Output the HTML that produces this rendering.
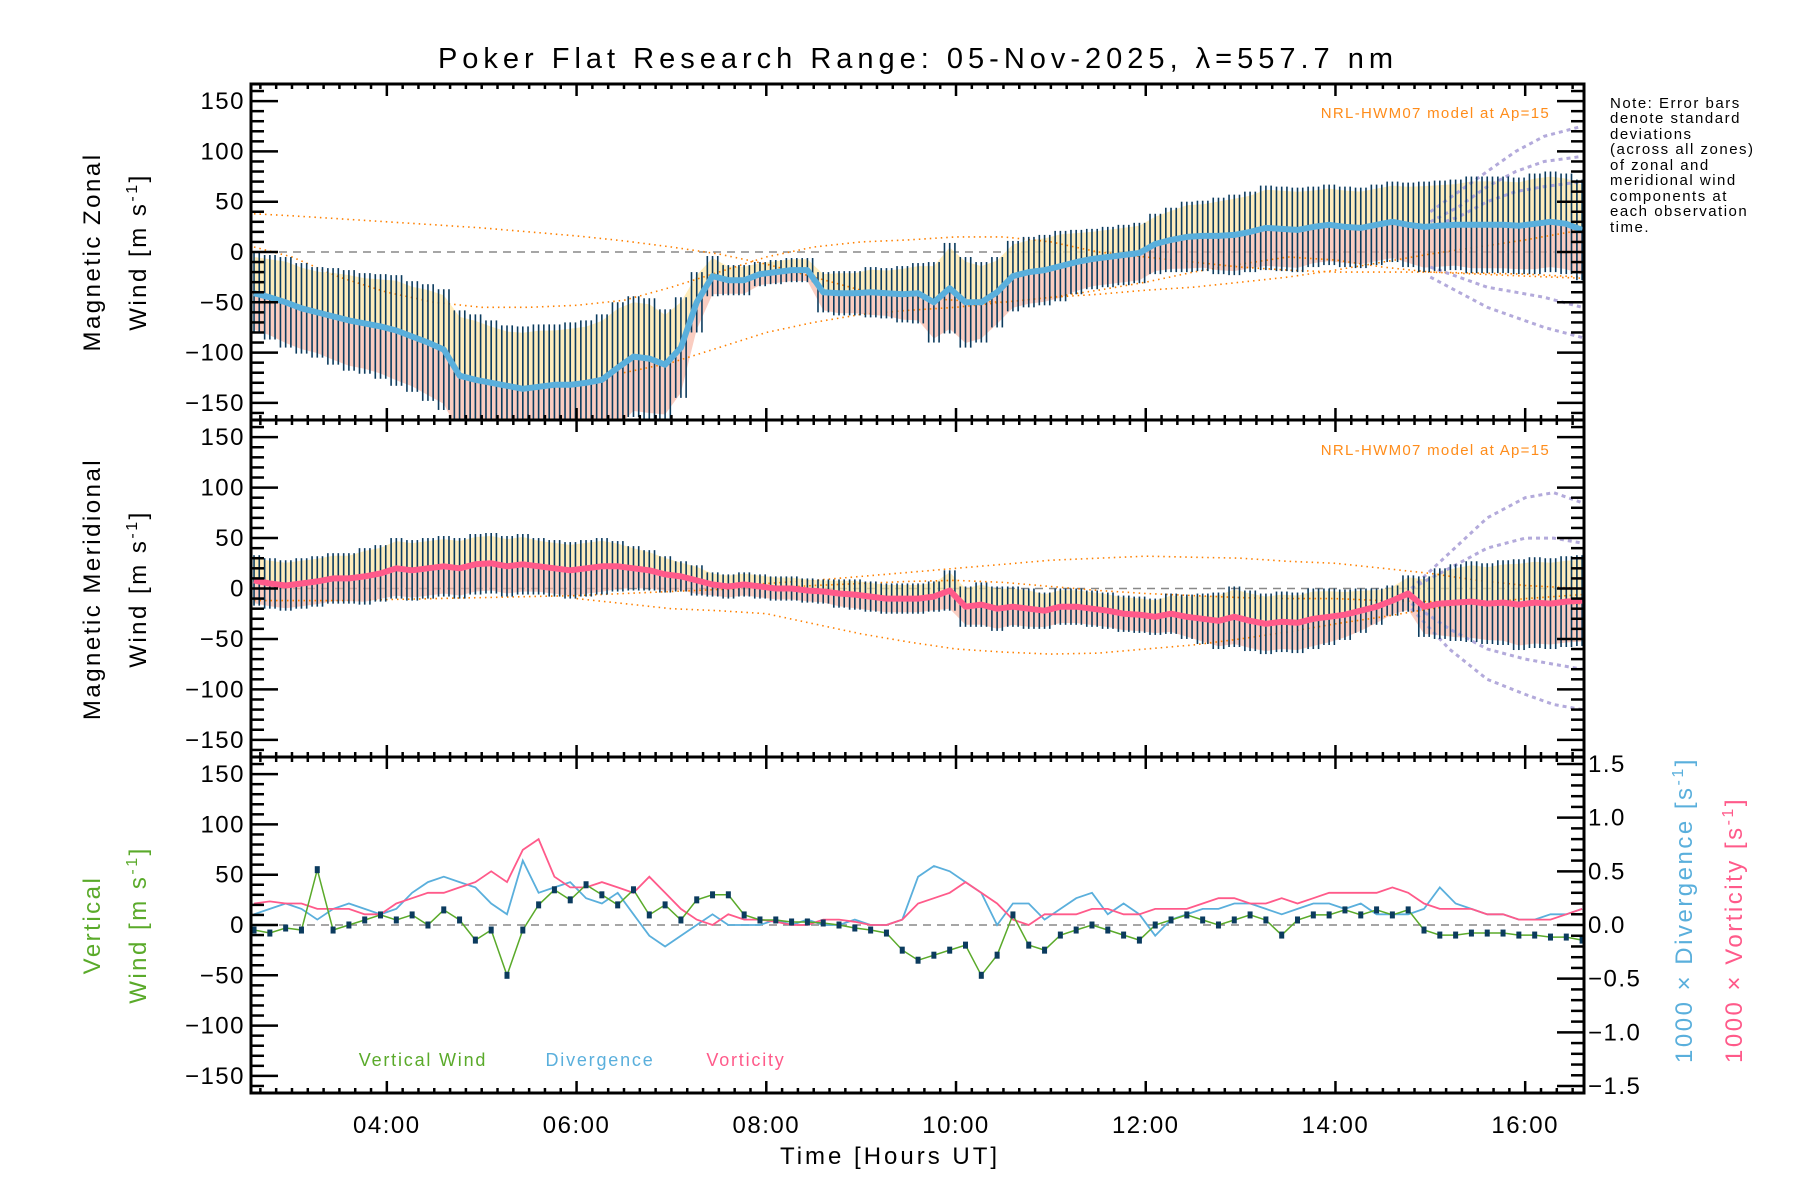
<!DOCTYPE html>
<html><head><meta charset="utf-8">
<style>
html,body{margin:0;padding:0;background:#fff;}
svg{display:block;font-family:"Liberation Sans","DejaVu Sans",sans-serif;}
</style></head>
<body>
<svg id="chart" width="1800" height="1200" viewBox="0 0 1800 1200">
<text x="918" y="68" font-size="29" letter-spacing="5" text-anchor="middle" fill="#000">Poker Flat Research Range: 05-Nov-2025, λ=557.7 nm</text>
<text x="890" y="1164" font-size="24" letter-spacing="3" text-anchor="middle" fill="#000">Time [Hours UT]</text>
<g font-size="15" letter-spacing="1.5" fill="#000">
<text x="1610" y="108">Note: Error bars</text>
<text x="1610" y="123">denote standard</text>
<text x="1610" y="139">deviations</text>
<text x="1610" y="154">(across all zones)</text>
<text x="1610" y="170">of zonal and</text>
<text x="1610" y="185">meridional wind</text>
<text x="1610" y="201">components at</text>
<text x="1610" y="216">each observation</text>
<text x="1610" y="232">time.</text>
</g>
<g letter-spacing="2.5">
<text transform="translate(100,252) rotate(-90)" font-size="24" text-anchor="middle">Magnetic Zonal</text>
<text transform="translate(146,252) rotate(-90)" font-size="24" text-anchor="middle">Wind [m s<tspan dy="-9" font-size="16">-1</tspan><tspan dy="9">]</tspan></text>
<text transform="translate(100,589) rotate(-90)" font-size="24" text-anchor="middle">Magnetic Meridional</text>
<text transform="translate(146,589) rotate(-90)" font-size="24" text-anchor="middle">Wind [m s<tspan dy="-9" font-size="16">-1</tspan><tspan dy="9">]</tspan></text>
<text transform="translate(100,925) rotate(-90)" font-size="24" text-anchor="middle" fill="#5aaa2a">Vertical</text>
<text transform="translate(146,925) rotate(-90)" font-size="24" text-anchor="middle" fill="#5aaa2a">Wind [m s<tspan dy="-9" font-size="16">-1</tspan><tspan dy="9">]</tspan></text>
<text transform="translate(1692,910) rotate(-90)" font-size="24" text-anchor="middle" fill="#5aafdc">1000 × Divergence [s<tspan dy="-9" font-size="16">-1</tspan><tspan dy="9">]</tspan></text>
<text transform="translate(1742,930) rotate(-90)" font-size="24" text-anchor="middle" fill="#ff5a8a">1000 × Vorticity [s<tspan dy="-9" font-size="16">-1</tspan><tspan dy="9">]</tspan></text>
</g>
<text x="1550" y="118" font-size="15" letter-spacing="1.3" text-anchor="end" fill="#ff8c1a">NRL-HWM07 model at Ap=15</text>
<text x="1550" y="455" font-size="15" letter-spacing="1.3" text-anchor="end" fill="#ff8c1a">NRL-HWM07 model at Ap=15</text>
<g font-size="18" letter-spacing="1.8" text-anchor="middle">
<text x="423" y="1066" fill="#5aaa2a">Vertical Wind</text>
<text x="600" y="1066" fill="#5aafdc">Divergence</text>
<text x="746" y="1066" fill="#ff5a8a">Vorticity</text>
</g>
</svg>
<script>
// time grid: 10-minute samples starting at 02:36 UT
const tStart = 2.6;
const tStep = 1/6;
const xTickLabels = ["04:00","06:00","08:00","10:00","12:00","14:00","16:00"];
const xTickHours = [4,6,8,10,12,14,16];
const yTickLabels = ["150","100","50","0","−50","−100","−150"];
const yTickValues = [150,100,50,0,-50,-100,-150];
const rTickLabels = ["1.5","1.0","0.5","0.0","−0.5","−1.0","−1.5"];
const rTickValues = [1.5,1.0,0.5,0,-0.5,-1.0,-1.5];

const zonalMean = [-41,-45,-50,-56,-60,-64, -68,-71,-74,-78,-84,-90, -97,-123,-127,-130,-133,-136,
 -134,-132,-132,-130,-127,-115, -104,-106,-112,-95,-50,-24, -28,-28,-22,-20,-18,-18,
 -40,-41,-41,-40,-41,-42, -41,-50,-36,-50,-50,-40, -24,-20,-18,-14,-10,-7,
 -5,-3,-1,8,12,15, 16,16,17,20,24,23, 22,25,27,25,24,27, 30,27,25,26,27,27, 27,27,26,28,30,28, 22];
const zonalSd = [40,42,45,45,45,48, 50,50,52,55,55,58, 60,65,65,62,60,62, 62,60,62,62,65,65,
 60,60,55,50,30,20, 15,15,12,12,12,12, 20,22,22,25,25,28, 30,40,45,45,40,35,
 35,35,35,35,32,30, 30,30,30,30,32,35, 35,38,40,40,42,42, 42,40,40,40,40,40,
 40,42,45,45,45,48, 48,48,48,50,50,50, 50];
const meridMean = [8,5,3,5,7,10, 10,12,15,20,18,20, 22,20,24,25,22,24, 22,20,18,20,22,22,
 20,18,14,12,8,4, 2,4,2,0,0,-2, -3,-5,-6,-8,-10,-10, -10,-8,-2,-18,-16,-20,
 -18,-20,-22,-18,-18,-20, -22,-25,-26,-28,-25,-28, -30,-32,-28,-32,-35,-33,
 -34,-30,-28,-26,-22,-18, -12,-5,-18,-15,-14,-13, -15,-14,-16,-14,-15,-13, -12];
const meridSd = [25,25,25,25,25,25, 25,28,28,30,30,30, 30,30,30,30,30,30, 28,28,28,28,28,25,
 22,20,18,15,15,12, 12,12,12,12,12,12, 12,14,15,15,15,15, 15,15,20,20,22,22,
 20,20,18,18,18,18, 18,18,18,18,20,22, 25,28,30,30,30,30, 30,30,28,25,22,18,
 15,18,30,35,38,40, 40,42,45,45,45,45, 45];
const vertWind = [-5,-8,-3,-5,55,-5, 0,5,10,5,10,0, 15,5,-15,-5,-50,-5, 20,35,25,40,30,20,
 35,10,20,5,25,30, 30,10,5,5,3,3, 2,0,-3,-5,-8,-25, -35,-30,-25,-20,-50,-30,
 10,-20,-25,-10,-5,0, -5,-10,-15,0,5,10, 5,0,5,10,5,-10, 5,10,10,15,10,15,
 10,15,-5,-10,-10,-8, -8,-8,-10,-10,-12,-12, -15];
const divergence = [0.1,0.15,0.2,0.15,0.05,0.15, 0.2,0.15,0.1,0.15,0.3,0.4, 0.45,0.4,0.35,0.2,0.1,0.6,
 0.3,0.35,0.4,0.25,0.2,0.3, 0.1,-0.1,-0.2,-0.1,0.0,0.1, 0.0,0.0,0.0,0.05,0.0,0.05,
 0.0,0.0,0.05,0.0,0.0,0.05, 0.45,0.55,0.5,0.4,0.3,0.0, 0.2,0.2,0.05,0.15,0.25,0.3,
 0.1,0.2,0.1,-0.1,0.05,0.1, 0.15,0.15,0.2,0.2,0.15,0.1, 0.15,0.2,0.2,0.15,0.2,0.1,
 0.1,0.1,0.15,0.35,0.2,0.15, 0.1,0.1,0.05,0.05,0.1,0.1, 0.15];
const vorticity = [0.2,0.22,0.2,0.2,0.15,0.15, 0.15,0.1,0.1,0.2,0.25,0.3, 0.3,0.35,0.4,0.5,0.4,0.7,
 0.8,0.45,0.35,0.35,0.4,0.35, 0.3,0.45,0.3,0.15,0.05,0.0, 0.1,0.05,0.05,0.03,0.0,0.0,
 0.05,0.05,0.03,0.0,0.0,0.05, 0.2,0.25,0.3,0.4,0.3,0.2, 0.05,0.0,0.1,0.1,0.1,0.15,
 0.15,0.1,0.1,0.15,0.15,0.15, 0.2,0.25,0.25,0.2,0.2,0.25, 0.2,0.25,0.3,0.3,0.3,0.3,
 0.35,0.3,0.2,0.15,0.15,0.15, 0.1,0.1,0.05,0.05,0.05,0.1, 0.15];

const modelT = [2.6,3,3.5,4,4.5,5,5.5,6,6.5,7,7.5,8,8.5,9,9.5,10,10.5,11,11.5,12,12.5,13,13.5,14,14.5,15,15.5,16,16.6];
const zModelHi = [38,36,33,30,27,24,20,16,11,5,-2,-12,-25,-38,-45,-48,-50,-45,-38,-30,-20,-12,-5,-8,-15,-20,-22,-24,-26];
const zModelMid = [5,-5,-25,-40,-50,-55,-55,-53,-48,-35,-20,-5,5,10,12,15,15,10,0,-5,-10,-15,-18,-20,-20,-20,-21,-22,-25];
const zModelLo = [null,null,null,null,null,null,null,null,-120,-110,-95,-80,-70,-62,-58,-55,-50,-45,-42,-38,-35,-30,-25,-18,-10,-2,5,12,22];
const mModelHi = [null,null,null,null,null,null,null,null,null,null,2,5,8,12,16,20,24,28,30,32,31,30,27,25,20,15,8,3,0];
const mModelMid = [-12,-12,-12,-11,-10,-9,-8,-7,-5,-3,-1,0,3,5,7,8,6,2,-2,-5,-7,-9,-10,-10,-12,-13,-14,-15,-15];
const mModelLo = [null,null,null,null,null,null,null,-10,-15,-20,-22,-25,-35,-45,-53,-60,-63,-65,-64,-60,-56,-50,-43,-35,-28,-20,-15,-10,-6];

const zoneT1 = [15.0,15.3,15.6,15.9,16.2,16.6];
const zZoneA = [40,60,80,100,115,125];
const zZoneB = [30,45,65,80,90,95];
const zZoneC = [25,35,50,60,65,70];
const zZoneD = [-15,-25,-35,-40,-45,-55];
const zZoneE = [-25,-40,-55,-65,-75,-85];
const zoneT2 = [14.8,15.2,15.6,16.0,16.3,16.6];
const mZoneA = [0,35,70,90,95,85];
const mZoneB = [0,20,40,50,50,45];
const mZoneC = [-15,-40,-60,-70,-75,-80];
const mZoneD = [-20,-60,-90,-105,-115,-120];

const NS = "http://www.w3.org/2000/svg";
const svg = document.getElementById("chart");
const X0 = 251, X1 = 1584, T0 = 2.568, T1 = 16.62;
const panels = [{top:84,bot:420},{top:420,bot:757},{top:757,bot:1093}];
const YR = 167;
function xs(t){ return X0 + (t - T0) / (T1 - T0) * (X1 - X0); }
function ys(p, v){ const P = panels[p]; const c = (P.top + P.bot) / 2; return c - v / YR * (P.bot - P.top) / 2; }
function yr(v){ const P = panels[2]; const c = (P.top + P.bot) / 2; return c - v / 1.565 * (P.bot - P.top) / 2; }
function tAt(i){ return tStart + i * tStep; }
function el(tag, attrs, parent){
  const e = document.createElementNS(NS, tag);
  for (const k in attrs) e.setAttribute(k, attrs[k]);
  (parent || svg).appendChild(e);
  return e;
}
function grp(name){
  const g = el("g", {});
  
  
  return g;
}
function lineSeries(times, vals, yf, attrs, name, parent){
  let d = "", pen = false;
  for (let i = 0; i < vals.length; i++){
    if (vals[i] === null){ pen = false; continue; }
    d += (pen ? "L" : "M") + xs(times[i]).toFixed(1) + "," + yf(vals[i]).toFixed(1);
    pen = true;
  }
  const p = el("path", Object.assign({d: d, fill: "none"}, attrs), parent);
  
  
  return p;
}
const gridT = zonalMean.map((_, i) => tAt(i));

const defs = el("defs", {});
panels.forEach((P, i) => {
  const cp = el("clipPath", {id: "clip" + i}, defs);
  el("rect", {x: X0, y: P.top, width: X1 - X0, height: P.bot - P.top}, cp);
});

function windPanel(p, mean, sd, meanColor, models, zoneT, zones, pname){
  const g = grp(pname + "-plot-area");
  g.setAttribute("clip-path", "url(#clip" + p + ")");
  const z = el("line", {x1: X0, x2: X1, y1: ys(p,0), y2: ys(p,0), stroke: "#888", "stroke-width": 1.5, "stroke-dasharray": "8,6"}, g);
  
  
  let up = "", mid = "", lo = "";
  for (let i = 0; i < mean.length; i++){ up += (i ? "L" : "M") + xs(gridT[i]).toFixed(1) + "," + ys(p, mean[i] + sd[i]*0.9).toFixed(1); }
  for (let i = mean.length - 1; i >= 0; i--){ mid += "L" + xs(gridT[i]).toFixed(1) + "," + ys(p, mean[i]).toFixed(1); }
  const b1 = el("path", {d: up + mid + "Z", fill: "#fde6a6", opacity: 0.75}, g);
  
  
  for (let i = 0; i < mean.length; i++){ lo += (i ? "L" : "M") + xs(gridT[i]).toFixed(1) + "," + ys(p, mean[i] - sd[i]*0.9).toFixed(1); }
  const b2 = el("path", {d: lo + mid + "Z", fill: "#f8b8a6", opacity: 0.7}, g);
  
  
  models.forEach((m, k) => lineSeries(modelT, m, v => ys(p, v), {stroke: "#ff8000", "stroke-width": 1.6, "stroke-dasharray": "1.5,4"}, pname + "-model-curve-" + k, g));
  zones.forEach((zz, k) => lineSeries(zoneT, zz, v => ys(p, v), {stroke: "#b3aadb", "stroke-width": 3, "stroke-dasharray": "4,4"}, pname + "-zone-line-" + k, g));
  const eb = grp(pname + "-error-bars");
  g.appendChild(eb);
  for (let i = 0; i < mean.length; i++){
    for (const off of [-0.055, 0.0, 0.055]){
      const t = gridT[i] + off;
      const l = el("line", {x1: xs(t), x2: xs(t), y1: ys(p, mean[i] + sd[i]), y2: ys(p, mean[i] - sd[i]), stroke: "#0b3b5e", "stroke-width": 1.6}, eb);
      
      
    }
  }
  lineSeries(gridT, mean, v => ys(p, v), {stroke: meanColor, "stroke-width": 6, "stroke-linejoin": "round"}, pname + "-mean-line", g);
}
windPanel(0, zonalMean, zonalSd, "#5aafdc", [zModelHi, zModelMid, zModelLo], zoneT1, [zZoneA, zZoneB, zZoneC, zZoneD, zZoneE], "zonal");
windPanel(1, meridMean, meridSd, "#ff5a8a", [mModelHi, mModelMid, mModelLo], zoneT2, [mZoneA, mZoneB, mZoneC, mZoneD], "meridional");

(function(){
  const g = grp("vertical-plot-area");
  g.setAttribute("clip-path", "url(#clip2)");
  const z = el("line", {x1: X0, x2: X1, y1: ys(2,0), y2: ys(2,0), stroke: "#888", "stroke-width": 1.5, "stroke-dasharray": "8,6"}, g);
  
  
  lineSeries(gridT, divergence, yr, {stroke: "#5aafdc", "stroke-width": 1.8}, "divergence-line", g);
  lineSeries(gridT, vorticity, yr, {stroke: "#ff5a8a", "stroke-width": 1.8}, "vorticity-line", g);
  lineSeries(gridT, vertWind, v => ys(2, v), {stroke: "#5aaa2a", "stroke-width": 1.5}, "vertical-wind-line", g);
  const pts = grp("vertical-wind-points");
  g.appendChild(pts);
  for (let i = 0; i < vertWind.length; i++){
    const c = el("rect", {x: xs(gridT[i]) - 2.5, y: ys(2, vertWind[i]) - 3.5, width: 5, height: 7, fill: "#0b3b5e"}, pts);
    
    
  }
})();

panels.forEach((P, p) => {
  const g = grp("panel-" + p + "-axes");
  const fr = el("rect", {x: X0, y: P.top, width: X1 - X0, height: P.bot - P.top, fill: "none", stroke: "#000", "stroke-width": 3}, g);
  
  
  for (let v = -160; v <= 160; v += 10){
    const major = v % 50 === 0;
    const len = major ? 27 : 13;
    const y = ys(p, v);
    el("line", {x1: X0, x2: X0 + len, y1: y, y2: y, stroke: "#000", "stroke-width": 2.5}, g);
    if (p < 2) el("line", {x1: X1, x2: X1 - len, y1: y, y2: y, stroke: "#000", "stroke-width": 2.5}, g);
  }
  yTickValues.forEach((v, k) => {
    const tx = el("text", {x: X0 - 6, y: ys(p, v) + 8, "font-size": 24, "letter-spacing": 1.5, "text-anchor": "end", fill: "#000"}, g);
    tx.textContent = yTickLabels[k];
    
    
  });
  for (let m = Math.ceil(T0 * 6); m <= T1 * 6; m++){
    const t = m / 6;
    const x = xs(t);
    const len = (m % 12 === 0) ? 12 : 5;
    el("line", {x1: x, x2: x, y1: P.bot, y2: P.bot - len, stroke: "#000", "stroke-width": 2.5}, g);
    el("line", {x1: x, x2: x, y1: P.top, y2: P.top + len, stroke: "#000", "stroke-width": 2.5}, g);
  }
});
(function(){
  const g = grp("right-axis");
  for (let k = -15; k <= 15; k++){
    const v = k / 10;
    const major = k % 5 === 0;
    const y = yr(v);
    el("line", {x1: X1, x2: X1 - (major ? 27 : 13), y1: y, y2: y, stroke: "#000", "stroke-width": 2.5}, g);
  }
  rTickValues.forEach((v, k) => {
    const tx = el("text", {x: X1 + 4, y: yr(v) + 8, "font-size": 24, "letter-spacing": 1.5, fill: "#000"}, g);
    tx.textContent = rTickLabels[k];
    
    
  });
})();
(function(){
  const g = grp("x-axis-labels");
  xTickHours.forEach((h, k) => {
    const tx = el("text", {x: xs(h), y: 1133, "font-size": 24, "letter-spacing": 1.5, "text-anchor": "middle", fill: "#000"}, g);
    tx.textContent = xTickLabels[k];
    
    
  });
})();
</script>
</body></html>
